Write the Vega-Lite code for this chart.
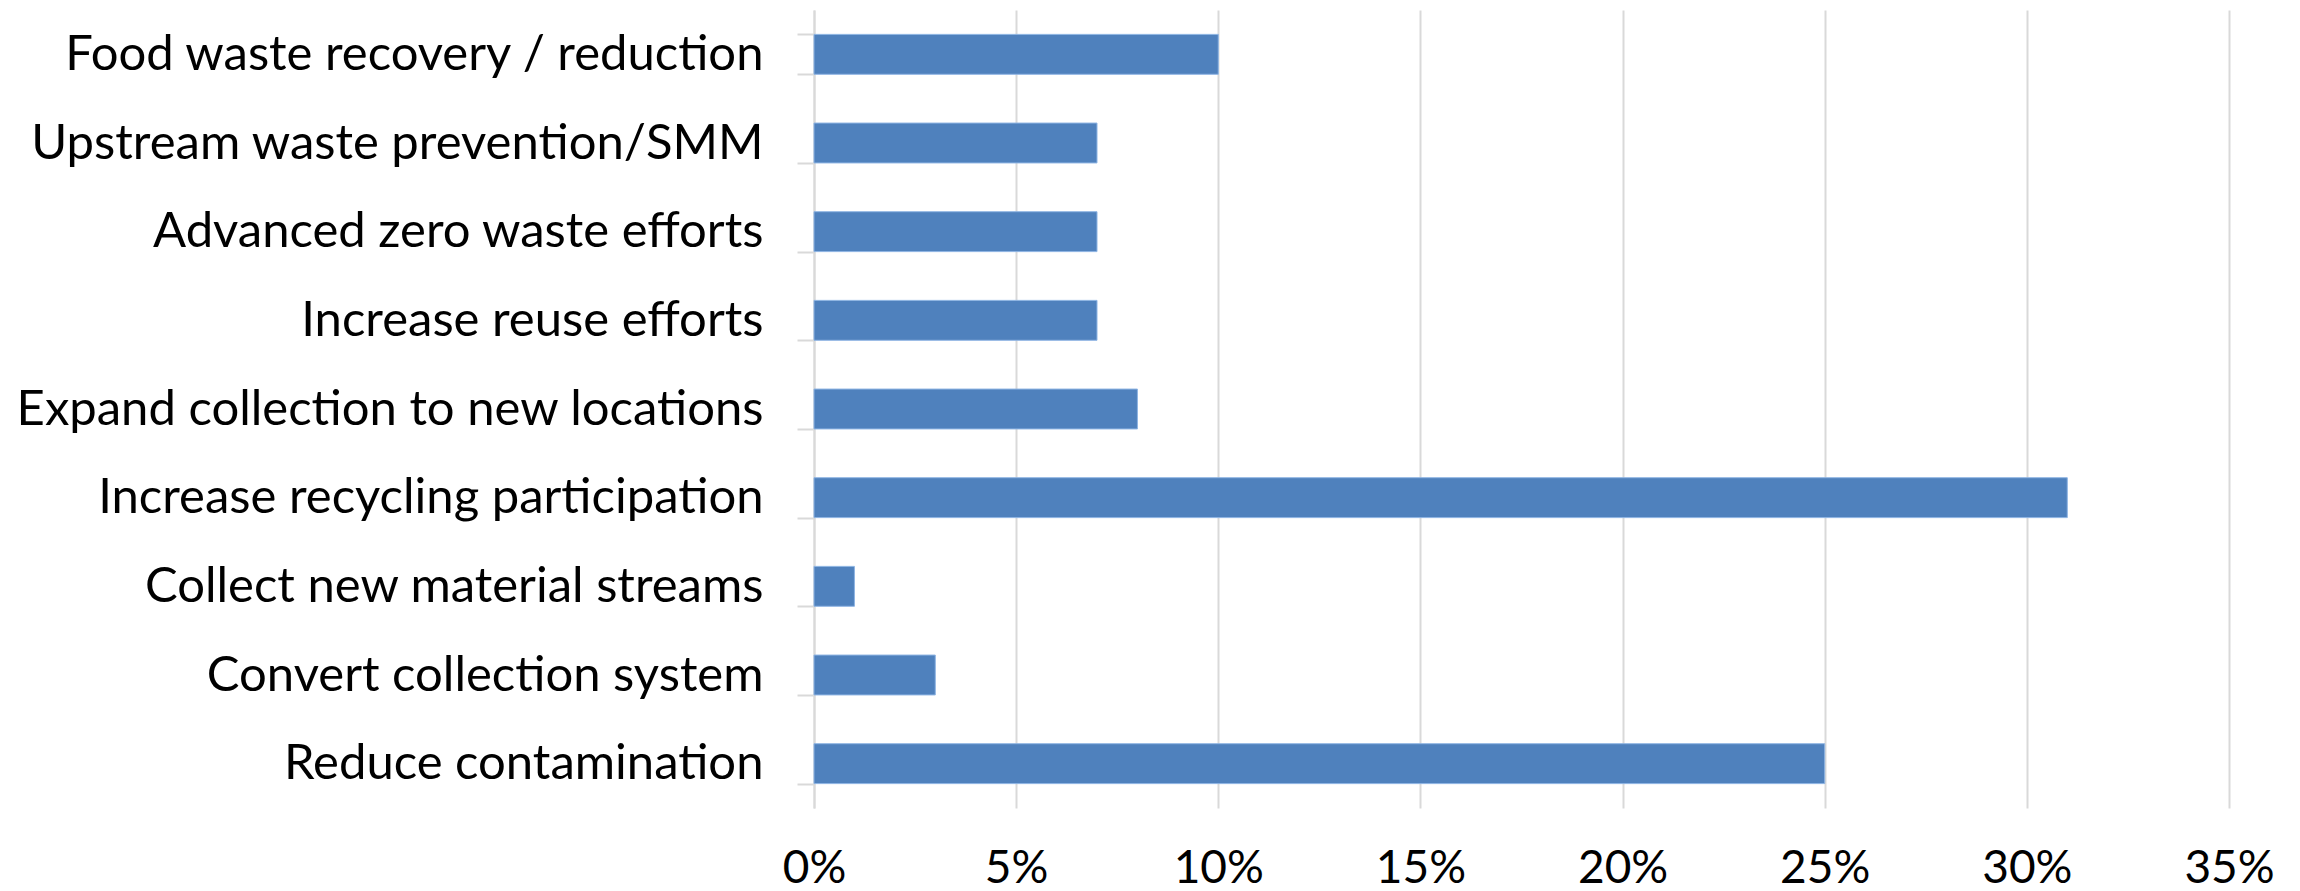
{
  "$schema": "https://vega.github.io/schema/vega-lite/v6.json",
  "width": 1415,
  "height": 798,
  "autosize": {"type": "none"},
  "padding": {"left": 814, "top": 10, "right": 71, "bottom": 83},
  "background": "white",
  "data": {"values": [
    {"category": "Food waste recovery / reduction", "value": 0.10},
    {"category": "Upstream waste prevention/SMM", "value": 0.07},
    {"category": "Advanced zero waste efforts\u2002", "value": 0.07},
    {"category": "Increase reuse efforts", "value": 0.07},
    {"category": "Expand collection to new locations", "value": 0.08},
    {"category": "Increase recycling participation", "value": 0.31},
    {"category": "Collect new material streams", "value": 0.01},
    {"category": "Convert collection system\u2002", "value": 0.03},
    {"category": "Reduce contamination", "value": 0.25}
  ]},
  "mark": {"type": "bar", "fill": "#4F81BD", "stroke": "#8EB4E3", "strokeWidth": 1},
  "encoding": {
    "y": {
      "field": "category", "type": "nominal", "sort": null, "title": null,
      "scale": {"paddingInner": 0.55, "paddingOuter": 0.275},
      "axis": {
        "tickBand": "extent", "tickSize": 17, "tickColor": "#D9D9D9", "tickWidth": 2,
        "domainColor": "#D9D9D9", "domainWidth": 2, "grid": false,
        "labelFont": "Lato", "labelFontSize": 49, "labelColor": "#000000",
        "labelPadding": 34, "labelLimit": 1000
      }
    },
    "x": {
      "field": "value", "type": "quantitative", "title": null,
      "scale": {"domain": [0, 0.35], "nice": false},
      "axis": {
        "format": ".0%", "values": [0, 0.05, 0.1, 0.15, 0.2, 0.25, 0.3, 0.35],
        "domain": false, "ticks": false, "grid": true, "gridColor": "#D9D9D9", "gridWidth": 2,
        "labelFont": "Lato", "labelFontSize": 46, "labelColor": "#000000", "labelPadding": 38,
        "labelFlush": false
      }
    }
  },
  "config": {"view": {"stroke": null}}
}
